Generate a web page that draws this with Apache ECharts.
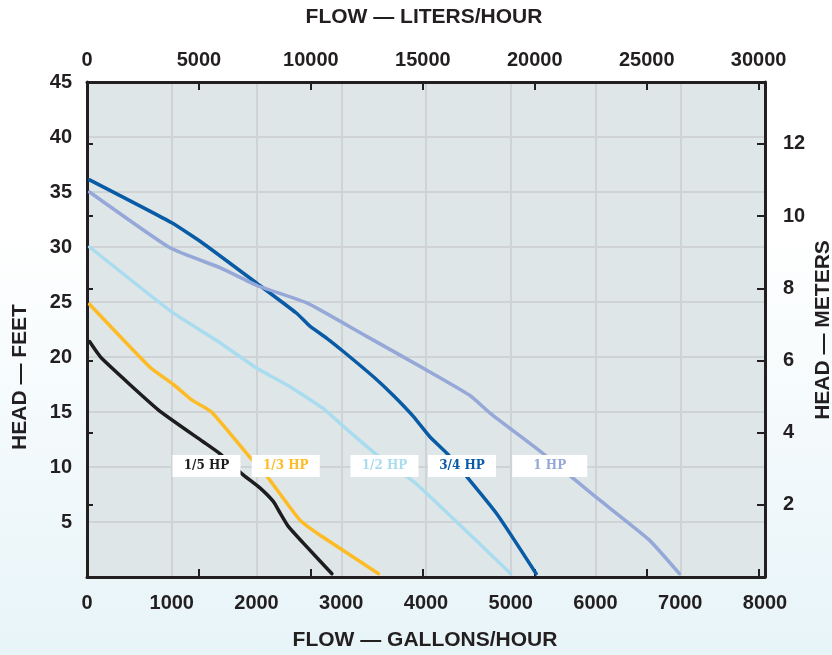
<!DOCTYPE html>
<html>
<head>
<meta charset="utf-8">
<script src="https://cdn.jsdelivr.net/npm/echarts@6/dist/echarts.min.js"></script>
<style>
html,body{margin:0;padding:0;}
body{width:832px;height:655px;background:linear-gradient(to bottom,#ffffff 0%,#ffffff 35%,#e7f4f8 100%);}
#c{width:832px;height:655px;}
</style>
</head>
<body>
<div id="c"></div>
<script>
// Flow in gallons/hour, head in feet
const seriesNames = ['1/5 HP', '1/3 HP', '1/2 HP', '3/4 HP', '1 HP'];
const hp15 = [[30,21.4],[170,19.9],[840,15.2],[1370,12.3],[1570,11.2],[1825,9.4],[2040,8.1],[2200,6.85],[2280,5.8],[2375,4.6],[2550,3.1],[2890,0.3]];
const hp13 = [[30,24.8],[740,19.1],[1020,17.5],[1235,16.1],[1470,15.0],[1920,10.9],[2100,9.4],[2510,5.2],[2750,3.8],[3440,0.3]];
const hp12 = [[30,30.0],[1000,24.1],[1530,21.5],[2000,19.0],[2395,17.3],[2790,15.3],[3025,13.7],[3420,11.1],[3880,8.5],[5000,0.3]];
const hp34 = [[30,36.1],[1000,32.2],[1375,30.3],[2005,26.7],[2470,24.0],[2630,22.8],[2830,21.7],[3025,20.5],[3380,18.2],[3615,16.5],[3850,14.6],[4045,12.75],[4265,11.1],[4830,5.8],[5300,0.3]];
const hp1 = [[30,35.0],[985,29.9],[1575,28.1],[2005,26.5],[2600,24.9],[3305,21.85],[4010,18.8],[4520,16.5],[4755,14.9],[5385,11.2],[6000,7.3],[6630,3.4],[6990,0.3]];
const colors = ['#1d1d1d', '#fdbb25', '#a9dcef', '#0a5ba6', '#95a8d8'];
// label box positions [gal, ft]
const labelAt = [[1410,10.1],[2345,10.1],[3510,10.1],[4425,10.1],[5460,10.1]];
const galTicks = [0,1000,2000,3000,4000,5000,6000,7000,8000];
const literTicks = [0,5000,10000,15000,20000,25000,30000];
const feetTicks = [5,10,15,20,25,30,35,40,45];
const meterTicks = [2,4,6,8,10,12];

const GAL_TO_L = 3.78541;
const FT_TO_M = 0.3048;
const xMax = 8000, yMax = 45;

const chart = echarts.init(document.getElementById('c'));
const tickFont = {fontFamily:'Liberation Sans', fontWeight:'bold', fontSize:20, color:'#231f20'};
const allData = [hp15, hp13, hp12, hp34, hp1];
const plain = v => String(v);

const lineSeries = allData.map((d,i)=>({
  type:'line', name:seriesNames[i], data:d, xAxisIndex:0, yAxisIndex:0,
  symbol:'none', smooth:0.15, z:3, silent:true,
  lineStyle:{color:colors[i], width:3.5, cap:'round', join:'round'}
}));

const labelSeries = {
  type:'scatter', xAxisIndex:0, yAxisIndex:0, z:10, silent:true,
  symbol:'rect',
  data: labelAt.map((p,i)=>({
    value:p, symbolSize:[i===4?75:68, 22],
    itemStyle:{color:'#ffffff', opacity:1},
    label:{show:true, position:'inside', formatter:seriesNames[i],
      color:colors[i], fontFamily:'DejaVu Serif', fontWeight:'bold', fontSize:12}
  }))
};

chart.setOption({
  animation:false,
  backgroundColor:'transparent',
  grid:{left:87, right:67, top:82, bottom:78, show:true, backgroundColor:'#dfe6e8', borderWidth:0, containLabel:false, outerBoundsMode:'none'},
  xAxis:[
    {type:'value', position:'bottom', min:0, max:xMax, interval:1000,
     axisLine:{show:true, onZero:false, lineStyle:{color:'#231f20', width:3}},
     axisTick:{show:false},
     axisLabel:Object.assign({margin:16, formatter:plain, customValues:galTicks}, tickFont),
     splitLine:{show:true, lineStyle:{color:'#cfd3d6', width:2}}},
    {type:'value', position:'top', min:0, max:xMax*GAL_TO_L, interval:5000,
     axisLine:{show:true, onZero:false, lineStyle:{color:'#231f20', width:3}},
     axisTick:{show:true, inside:true, length:8, customValues:literTicks.slice(1), lineStyle:{color:'#231f20', width:2}},
     axisLabel:Object.assign({margin:12, formatter:plain, customValues:literTicks}, tickFont),
     splitLine:{show:false}},
    {type:'value', position:'top', min:0, max:xMax*GAL_TO_L, interval:5000,
     axisLine:{show:false},
     axisTick:{show:true, inside:false, length:8, customValues:literTicks.slice(1), lineStyle:{color:'#231f20', width:2}},
     axisLabel:{show:false},
     splitLine:{show:false}}
  ],
  yAxis:[
    {type:'value', position:'left', min:0, max:yMax, interval:5,
     axisLine:{show:true, onZero:false, lineStyle:{color:'#231f20', width:3}},
     axisTick:{show:false},
     axisLabel:Object.assign({margin:15, formatter:plain, customValues:feetTicks}, tickFont),
     splitLine:{show:true, lineStyle:{color:'#cfd3d6', width:2}}},
    {type:'value', position:'right', min:0, max:yMax*FT_TO_M, interval:2,
     axisLine:{show:true, onZero:false, lineStyle:{color:'#231f20', width:3}},
     axisTick:{show:true, inside:true, length:8, customValues:meterTicks, lineStyle:{color:'#231f20', width:2}},
     axisLabel:Object.assign({margin:18, formatter:plain, customValues:meterTicks}, tickFont),
     splitLine:{show:false}},
    {type:'value', position:'right', min:0, max:yMax*FT_TO_M, interval:2,
     axisLine:{show:false},
     axisTick:{show:true, inside:false, length:6, customValues:meterTicks, lineStyle:{color:'#231f20', width:2}},
     axisLabel:{show:false},
     splitLine:{show:false}}
  ],
  graphic:[
    {type:'text', x:424, y:17, style:{text:'FLOW — LITERS/HOUR', font:'bold 21px "Liberation Sans"', fill:'#231f20', align:'center', verticalAlign:'middle'}},
    {type:'text', x:425, y:640, style:{text:'FLOW — GALLONS/HOUR', font:'bold 21px "Liberation Sans"', fill:'#231f20', align:'center', verticalAlign:'middle'}},
    {type:'text', x:20, y:377, rotation:Math.PI/2, style:{text:'HEAD — FEET', font:'bold 21px "Liberation Sans"', fill:'#231f20', align:'center', verticalAlign:'middle'}},
    {type:'text', x:823, y:330, rotation:Math.PI/2, style:{text:'HEAD — METERS', font:'bold 21px "Liberation Sans"', fill:'#231f20', align:'center', verticalAlign:'middle'}}
  ],
  series: lineSeries.concat([labelSeries])
});
</script>
</body>
</html>
